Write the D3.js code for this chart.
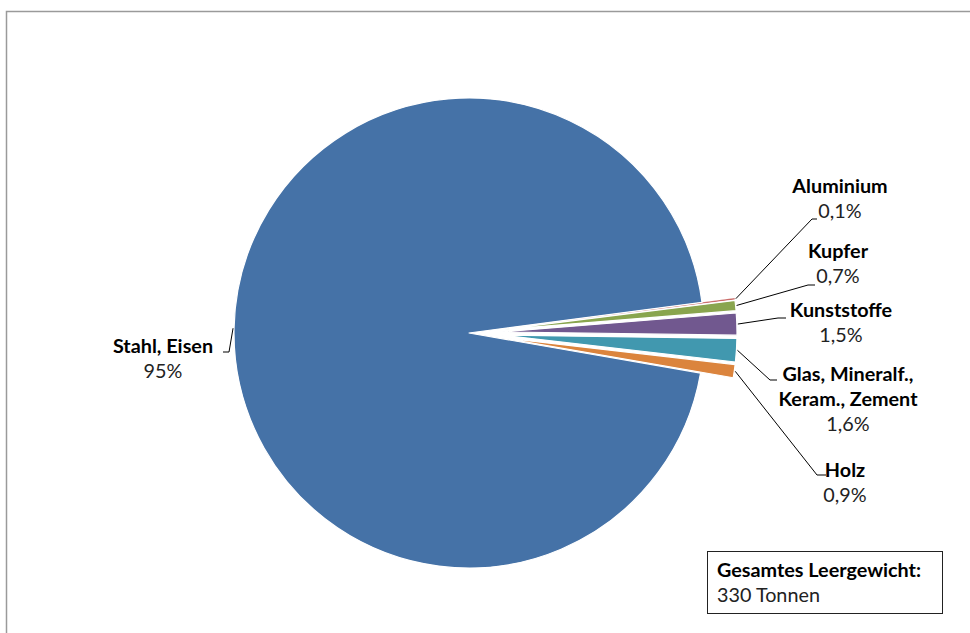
<!DOCTYPE html>
<html><head><meta charset="utf-8">
<script src="https://cdn.jsdelivr.net/npm/d3@7"></script>
<style>
html,body{margin:0;padding:0;background:#fff;}
svg{display:block;}
text{font-family:Lato,"Open Sans",sans-serif;}
</style></head>
<body>
<svg id="chart" width="970" height="633"></svg>
<script>
// ---- data ----
const categories = ["Aluminium", "Kupfer", "Kunststoffe", "Glas, Mineralf., Keram., Zement", "Holz", "Stahl, Eisen"];
const nameLines = [["Aluminium"], ["Kupfer"], ["Kunststoffe"], ["Glas, Mineralf.,", "Keram., Zement"], ["Holz"], ["Stahl, Eisen"]];
const shares = [0.1, 0.7, 1.5, 1.6, 0.9, 95];
const shareLabels = ["0,1%", "0,7%", "1,5%", "1,6%", "0,9%", "95%"];
const colors = ["#C0504D", "#89A54E", "#71588F", "#4198AF", "#DB843D", "#4572A7"];
const exploded = [true, true, true, true, true, false];
const totalTitle = "Gesamtes Leergewicht:";
const totalValue = "330 Tonnen";

// ---- layout ----
const W = 970, H = 633;
const cx = 469, cy = 333, R = 235, explode = 33;
const startDeg = 82.5;
const fs = "19.8px";
// label layout: center x, first baseline, elbow point, horizontal end
const labelLayout = [
  {x: 840, y: 193, elbow: [812, 219], end: [817, 219]},
  {x: 838, y: 258, elbow: [808, 285], end: [815, 285]},
  {x: 841, y: 317, elbow: [778, 318], end: [786, 318]},
  {x: 848, y: 381, elbow: [770, 380], end: [777, 380]},
  {x: 845, y: 477, elbow: [817, 475], end: [826, 475]},
  {x: 163, y: 353, elbow: [229, 352], end: [223, 352]}
];

const svg = d3.select("#chart");

// outer frame
svg.append("rect").attr("x", 6.5).attr("y", 11.5).attr("width", 980).attr("height", 640)
  .attr("fill", "none").attr("stroke", "#9a9a9a").attr("stroke-width", 1.5);

const data = categories.map((c, i) => ({name: c, value: shares[i], i}));
const start = startDeg * Math.PI / 180;
const pie = d3.pie().value(d => d.value).sort(null).startAngle(start).endAngle(start + 2 * Math.PI);
const arcs = pie(data);
const arc = d3.arc().innerRadius(0).outerRadius(R);

function offset(a) {
  if (!exploded[a.data.i]) return [0, 0];
  const m = (a.startAngle + a.endAngle) / 2;
  return [explode * Math.sin(m), -explode * Math.cos(m)];
}

const g = svg.append("g").attr("transform", `translate(${cx},${cy})`);
g.selectAll("path.slice").data(arcs).join("path")
  .attr("class", "slice")
  .attr("transform", a => { const o = offset(a); return `translate(${o[0]},${o[1]})`; })
  .attr("d", arc)
  .attr("fill", a => colors[a.data.i])
  .attr("stroke", "#fff").attr("stroke-width", a => a.data.i === 0 ? 0.3 : 1.2).attr("stroke-linejoin", "round");

// leader lines
const line = d3.line();
arcs.forEach(a => {
  const i = a.data.i, L = labelLayout[i];
  const o = offset(a);
  const m = (a.startAngle + a.endAngle) / 2;
  const p0 = [cx + o[0] + (R + 1) * Math.sin(m), cy + o[1] - (R + 1) * Math.cos(m)];
  svg.append("path").attr("d", line([p0, L.elbow, L.end]))
    .attr("fill", "none").attr("stroke", "#000").attr("stroke-width", 1);
});

// labels
arcs.forEach(a => {
  const i = a.data.i, L = labelLayout[i];
  const t = svg.append("text").attr("text-anchor", "middle").style("font-size", fs);
  nameLines[i].forEach((ln, k) => {
    t.append("tspan").attr("x", L.x).attr("y", L.y + k * 25)
      .attr("font-weight", "bold").attr("fill", "#000").text(ln);
  });
  t.append("tspan").attr("x", L.x).attr("y", L.y + nameLines[i].length * 25)
    .attr("fill", "#222").text(shareLabels[i]);
});

// total box
const box = svg.append("g");
box.append("rect").attr("x", 707.5).attr("y", 551.5).attr("width", 235).attr("height", 62)
  .attr("fill", "#fff").attr("stroke", "#222").attr("stroke-width", 1);
box.append("text").attr("x", 717).attr("y", 577).style("font-size", fs)
  .attr("font-weight", "bold").attr("fill", "#000").text(totalTitle);
box.append("text").attr("x", 717).attr("y", 602).style("font-size", fs)
  .attr("fill", "#222").text(totalValue);
</script>
</body></html>
